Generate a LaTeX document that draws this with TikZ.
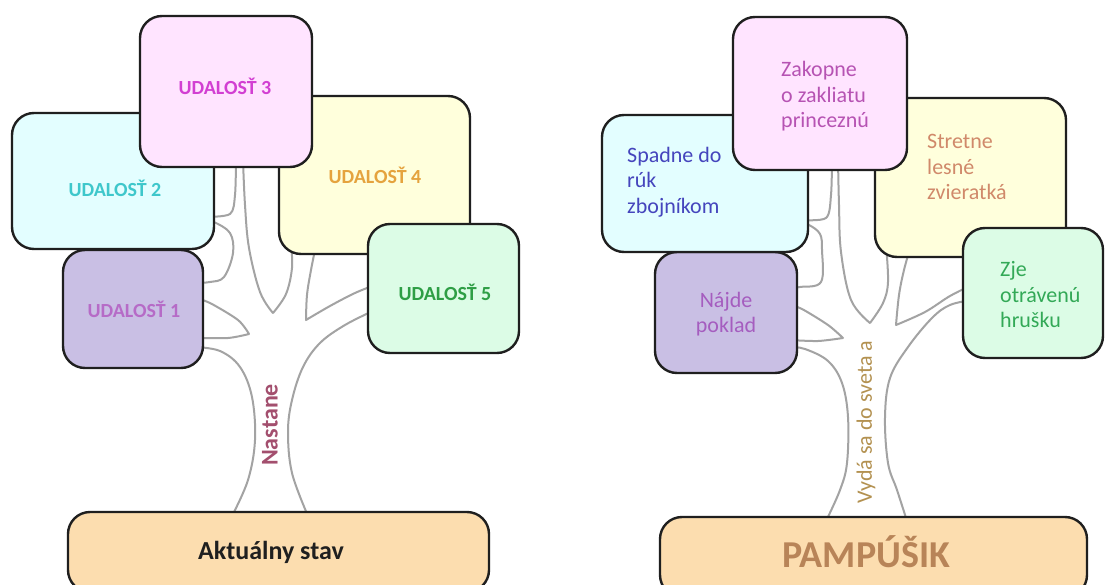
\documentclass[tikz,border=0pt]{standalone}
\usepackage{fontspec}
\setmainfont{Carlito}
\definecolor{treegray}{HTML}{A3A3A3}
\definecolor{boxline}{HTML}{1F1F1F}
\definecolor{fpink}{HTML}{FFE4FF}
\definecolor{fcyan}{HTML}{E3FEFF}
\definecolor{fyellow}{HTML}{FFFFDC}
\definecolor{fgreen}{HTML}{DCFCE6}
\definecolor{flav}{HTML}{C9BFE4}
\definecolor{fpeach}{HTML}{FCDDAF}
\definecolor{cmag}{HTML}{D23FD2}
\definecolor{ccyan}{HTML}{3EC7CB}
\definecolor{corange}{HTML}{E5A33E}
\definecolor{cgreen}{HTML}{2E9E45}
\definecolor{cpurple}{HTML}{B66BC7}
\definecolor{cmaroon}{HTML}{A34F6E}
\definecolor{rzak}{HTML}{B653B3}
\definecolor{rspad}{HTML}{4545BD}
\definecolor{rstr}{HTML}{D0896A}
\definecolor{rzje}{HTML}{33A957}
\definecolor{rnaj}{HTML}{A55DBF}
\definecolor{rpamp}{HTML}{B88458}
\definecolor{rvyd}{HTML}{B39150}
\begin{document}
\begin{tikzpicture}[x=1pt,y=-1pt,
  box/.style={draw=boxline, line width=2.4pt, rounded corners=22pt, inner sep=0pt},
  branch/.style={draw=treegray, line width=2pt, line join=round, line cap=round},
  ev/.style={font=\fontsize{20}{24}\selectfont\bfseries, inner sep=0pt},
  story/.style={font=\fontsize{22}{25.5}\selectfont, align=left, inner sep=0pt, anchor=west},
]
\useasboundingbox (0,0) rectangle (1105,585);
\clip (0,0) rectangle (1105,585);
\fill[white] (0,0) rectangle (1105,585);

% ---------- left tree ----------
\draw[branch] plot[smooth,tension=0.6] coordinates {(232,516) (248,480) (255,440) (252,397) (240,367) (220,351) (195,347)};
\draw[branch] plot[smooth,tension=0.5] coordinates {(195,338) (228,338) (249,334)}
              plot[smooth,tension=0.5] coordinates {(249,334) (238,320) (210,303) (195,298)};
\draw[branch] plot[smooth,tension=0.6] coordinates {(195,283) (210,282) (224,277) (233,253) (230,233) (214,222) (205,220)};
\draw[branch] plot[smooth,tension=0.5] coordinates {(205,217) (230,214) (235,195) (236,160)};
\draw[branch] plot[smooth,tension=0.6] coordinates {(243,160) (245,205) (249,248) (260,292) (273,313)}
              plot[smooth,tension=0.6] coordinates {(273,313) (286,294) (292,268) (291,245)};
\draw[branch] plot[smooth,tension=0.6] coordinates {(316,245) (311,270) (307,295) (306,320)}
              plot[smooth,tension=0.6] coordinates {(306,320) (330,306) (355,293) (375,285)};
\draw[branch] plot[smooth,tension=0.6] coordinates {(375,310) (345,325) (320,343) (303,367) (292,400) (288,432) (292,473) (308,516)};

% ---------- right tree ----------
\draw[branch] plot[smooth,tension=0.6] coordinates {(826,521) (840,490) (847,463) (848,417) (842,383) (828,361) (805,349) (790,347)};
\draw[branch] plot[smooth,tension=0.5] coordinates {(790,340) (818,341) (843,338)}
              plot[smooth,tension=0.5] coordinates {(843,338) (828,325) (802,309) (790,305)};
\draw[branch] plot[smooth,tension=0.6] coordinates {(790,288) (800,287) (821,282) (822,250) (820,234) (809,225) (800,223)};
\draw[branch] plot[smooth,tension=0.5] coordinates {(800,220) (826,218) (831,195) (832,160)};
\draw[branch] plot[smooth,tension=0.6] coordinates {(838,160) (839,205) (841,252) (851,300) (870,323)}
              plot[smooth,tension=0.6] coordinates {(870,323) (883,303) (888,282) (886,245)};
\draw[branch] plot[smooth,tension=0.6] coordinates {(911,245) (904,270) (899,295) (896,325)}
              plot[smooth,tension=0.6] coordinates {(896,325) (925,312) (950,296) (972,285)};
\draw[branch] plot[smooth,tension=0.6] coordinates {(972,300) (950,305) (932,318) (908,347) (890,378) (885,417) (888,463) (897,490) (907,521)};

% ---------- left boxes ----------
\node[box, fill=flav, minimum width=140pt, minimum height=118pt] (b1) at (133,309) {};
\node[box, fill=fcyan, minimum width=202pt, minimum height=136pt] (b2) at (113,181) {};
\node[box, fill=fyellow, minimum width=191pt, minimum height=158pt] (b4) at (374.5,175) {};
\node[box, fill=fgreen, minimum width=151pt, minimum height=129pt] (b5) at (443.5,288.5) {};
\node[box, fill=fpink, minimum width=172pt, minimum height=151pt] (b3) at (226,91.5) {};
\node[box, fill=fpeach, minimum width=421pt, minimum height=80pt] (base) at (278.5,552) {};

\node[ev, text=cpurple] (t1) at (134,309) {UDALOSŤ 1};
\node[ev, text=ccyan] (t2) at (115,188) {UDALOSŤ 2};
\node[ev, text=cmag] (t3) at (225,86) {UDALOSŤ 3};
\node[ev, text=corange] (t4) at (375,175) {UDALOSŤ 4};
\node[ev, text=cgreen] (t5) at (445,292) {UDALOSŤ 5};
\node[font=\fontsize{26}{30}\selectfont\bfseries, text=black!88, inner sep=0pt] (tb) at (271,552) {Aktuálny stav};
\node[font=\fontsize{24}{28}\selectfont\bfseries, text=cmaroon, rotate=90, inner sep=0pt] (tn) at (270,425) {Nastane};

% ---------- right boxes ----------
\node[box, fill=flav, minimum width=142pt, minimum height=121pt] (z1) at (726,312.5) {};
\node[box, fill=fcyan, minimum width=206pt, minimum height=137pt] (z2) at (705,183.5) {};
\node[box, fill=fyellow, minimum width=191pt, minimum height=159pt] (z4) at (970.5,177.5) {};
\node[box, fill=fgreen, minimum width=140pt, minimum height=130pt] (z5) at (1033,293) {};
\node[box, fill=fpink, minimum width=174pt, minimum height=153pt] (z3) at (820,93.5) {};
\node[box, fill=fpeach, minimum width=427pt, minimum height=80pt] (zbase) at (873.5,557) {};

\node[story, text=rzak] (s3) at (781,96.5) {Zakopne\\o zakliatu\\princeznú};
\node[story, text=rspad] (s2) at (627,182) {Spadne do\\rúk\\zbojníkom};
\node[story, text=rstr] (s4) at (927,167) {Stretne\\lesné\\zvieratká};
\node[story, text=rzje] (s5) at (1000,295) {Zje\\otrávenú\\hrušku};
\node[font=\fontsize{22}{25.5}\selectfont, align=center, inner sep=0pt, text=rnaj] (s1) at (726,314) {Nájde\\poklad};
\node[font=\fontsize{38}{44}\selectfont\bfseries, text=rpamp, inner sep=0pt] (sb) at (866,552) {PAMPÚŠIK};
\node[font=\fontsize{22}{26}\selectfont, text=rvyd, rotate=90, inner sep=0pt] (sv) at (866,422) {Vydá sa do sveta a};
\end{tikzpicture}
\end{document}
